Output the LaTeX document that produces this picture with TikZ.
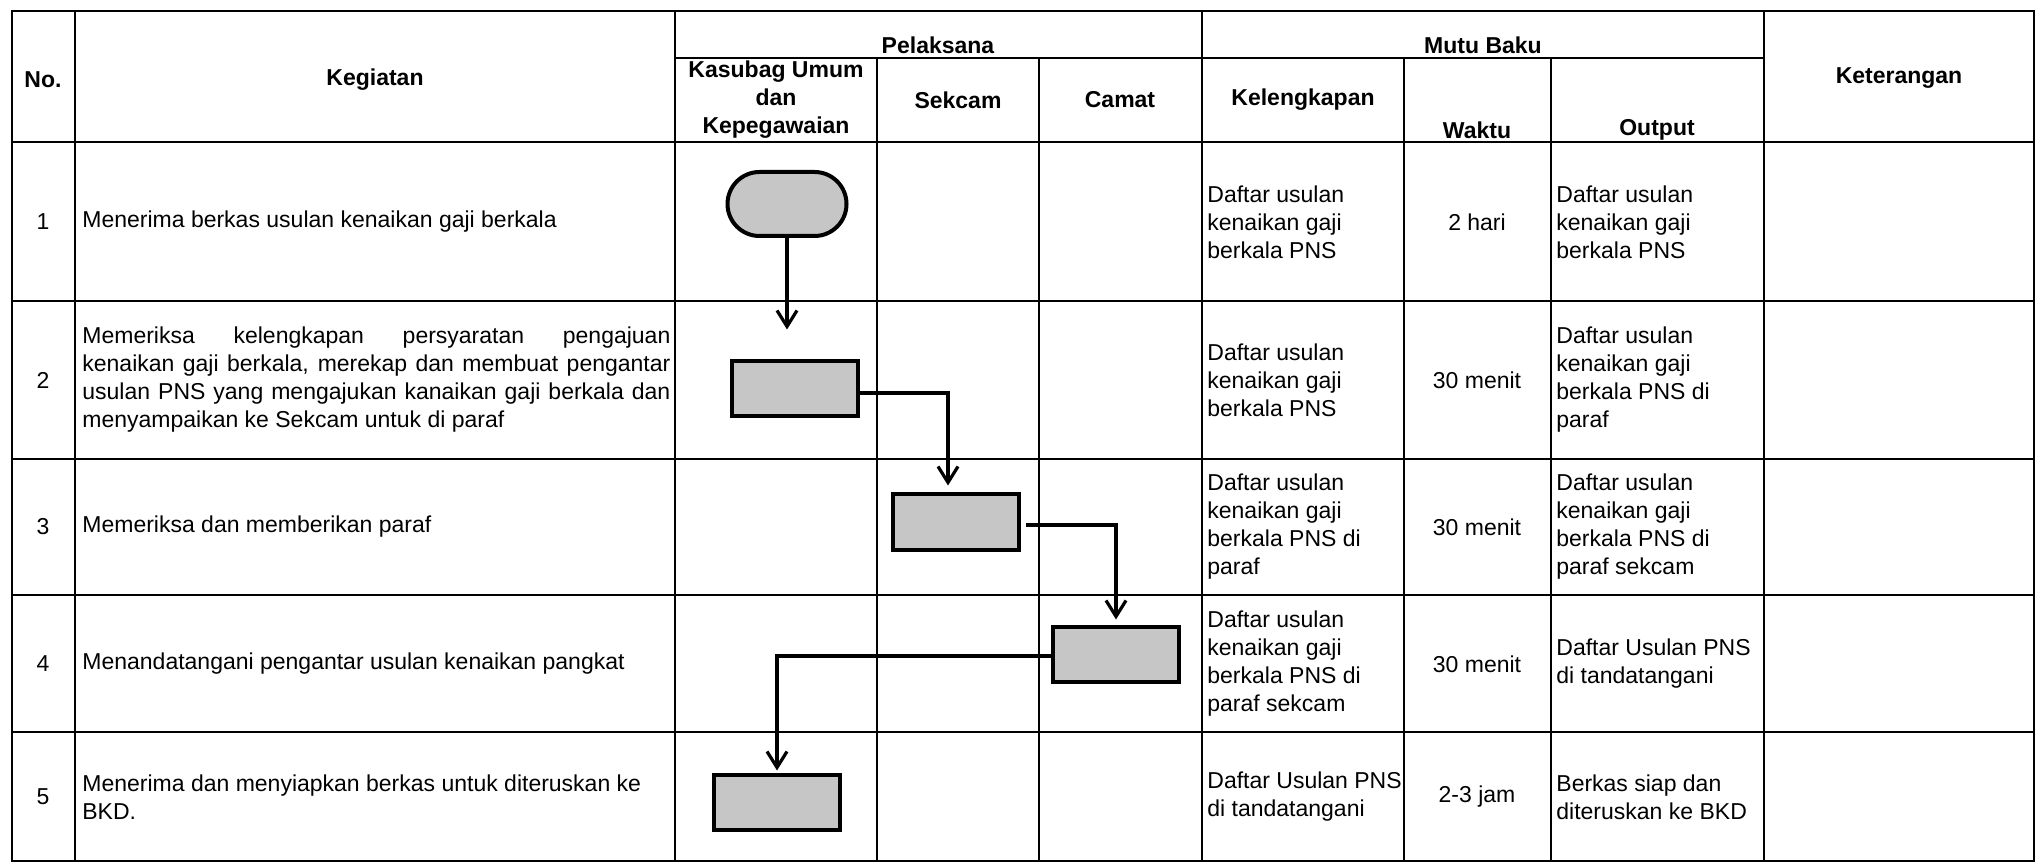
\documentclass[tikz,border=0pt]{standalone}
\usepackage{fontspec}
\setmainfont{Liberation Sans}
\usepackage{tikz}
\usetikzlibrary{shapes,arrows.meta,calc}
\tikzstyle{rule} = [draw, line width=1.3pt]
\tikzstyle{cell} = [inner sep=0pt, font=\fontsize{11.5pt}{14pt}\selectfont]
\tikzstyle{head} = [cell, font=\fontsize{11.5pt}{14pt}\selectfont\bfseries, align=center]
\tikzstyle{txt} = [cell, align=left, anchor=west]
\tikzstyle{terminal} = [rectangle, draw, line width=2pt, rounded corners=16pt, fill=gray!45, %
minimum width=59.5pt, minimum height=32pt]
\tikzstyle{process} = [rectangle, draw, line width=2pt, sharp corners, fill=gray!45, %
minimum width=63pt, minimum height=27.5pt]
\tikzstyle{arrow} = [draw, line width=1.6pt, -{Straight Barb[length=8pt,width=10pt]}]

\begin{document}
\begin{tikzpicture}[x=0.5pt, y=-0.5pt]
    \useasboundingbox (0,0) rectangle (2044,865);
    % table rules
    \draw[rule] (12,11) rectangle (2034,861);
    \draw[rule] (675,58) -- (1764,58);
    \foreach \y in {142,301,459,595,732}
        \draw[rule] (12,\y) -- (2034,\y);
    \foreach \x in {75,675,1202,1764}
        \draw[rule] (\x,11) -- (\x,861);
    \foreach \x in {877,1039,1404,1551}
        \draw[rule] (\x,58) -- (\x,861);
    % header
    \node[head] (no) at (43,80) {No.};
    \node[head] (kegiatan) at (375,80) {Kegiatan};
    \node[head] (pelaksana) at (938,45) {Pelaksana};
    \node[head] (kasubag) at (776,100) {Kasubag Umum\\dan\\Kepegawaian};
    \node[head] (sekcam) at (958,100) {Sekcam};
    \node[head] (camat) at (1120,100) {Camat};
    \node[head] (mutu) at (1483,45) {Mutu Baku};
    \node[head] (kelengkapan) at (1303,100) {Kelengkapan};
    \node[head] (waktu) at (1477,130) {Waktu};
    \node[head] (output) at (1657,130) {Output};
    \node[head] (keterangan) at (1899,78) {Keterangan};
    % row numbers
    \foreach \n/\y in {1/222,2/380,3/527,4/664,5/797}
        \node[cell] (no\n) at (43,\y) {\n};
    % kegiatan
    \node[txt] (keg1) at (82,222) {Menerima berkas usulan kenaikan gaji berkala};
    \node[txt, align=justify, text width=294pt] (keg2) at (82,380) {Memeriksa kelengkapan persyaratan pengajuan\linebreak kenaikan gaji berkala, merekap dan membuat pengantar\linebreak usulan PNS yang mengajukan kanaikan gaji berkala dan\linebreak menyampaikan ke Sekcam untuk di paraf};
    \node[txt] (keg3) at (82,527) {Memeriksa dan memberikan paraf};
    \node[txt] (keg4) at (82,664) {Menandatangani pengantar usulan kenaikan pangkat};
    \node[txt] (keg5) at (82,797) {Menerima dan menyiapkan berkas untuk diteruskan ke\\BKD.};
    % kelengkapan
    \node[txt] (kel1) at (1207,222) {Daftar usulan\\kenaikan gaji\\berkala PNS};
    \node[txt] (kel2) at (1207,380) {Daftar usulan\\kenaikan gaji\\berkala PNS};
    \node[txt] (kel3) at (1207,527) {Daftar usulan\\kenaikan gaji\\berkala PNS di\\paraf};
    \node[txt] (kel4) at (1207,664) {Daftar usulan\\kenaikan gaji\\berkala PNS di\\paraf sekcam};
    \node[txt] (kel5) at (1207,797) {Daftar Usulan PNS\\di tandatangani};
    % waktu
    \node[cell] (wak1) at (1477,222) {2 hari};
    \node[cell] (wak2) at (1477,380) {30 menit};
    \node[cell] (wak3) at (1477,527) {30 menit};
    \node[cell] (wak4) at (1477,664) {30 menit};
    \node[cell] (wak5) at (1477,797) {2-3 jam};
    % output
    \node[txt] (out1) at (1556,222) {Daftar usulan\\kenaikan gaji\\berkala PNS};
    \node[txt] (out2) at (1556,380) {Daftar usulan\\kenaikan gaji\\berkala PNS di\\paraf};
    \node[txt] (out3) at (1556,527) {Daftar usulan\\kenaikan gaji\\berkala PNS di\\paraf sekcam};
    \node[txt] (out4) at (1556,664) {Daftar Usulan PNS\\di tandatangani};
    \node[txt] (out5) at (1556,797) {Berkas siap dan\\diteruskan ke BKD};
    % flow symbols
    \node[terminal] (start) at (787,204) {};
    \node[process] (periksa) at (795,389) {};
    \node[process] (paraf) at (956,522) {};
    \node[process] (ttd) at (1116,654) {};
    \node[process] (kirim) at (777,802) {};
    % draw arrows
    \path[arrow, shorten >=15pt] (start.south) -- (start.south |- periksa.north);
    \path[arrow, shorten >=3.5pt] ([yshift=-2pt]periksa.east) -| ([xshift=-4pt]paraf.north);
    \path[arrow, shorten >=2.5pt] ([xshift=2.5pt,yshift=-1.5pt]paraf.east) -| (ttd.north);
    \path[arrow, shorten >=1pt] ([yshift=-1pt]ttd.west) -| (kirim.north);
\end{tikzpicture}
\end{document}
